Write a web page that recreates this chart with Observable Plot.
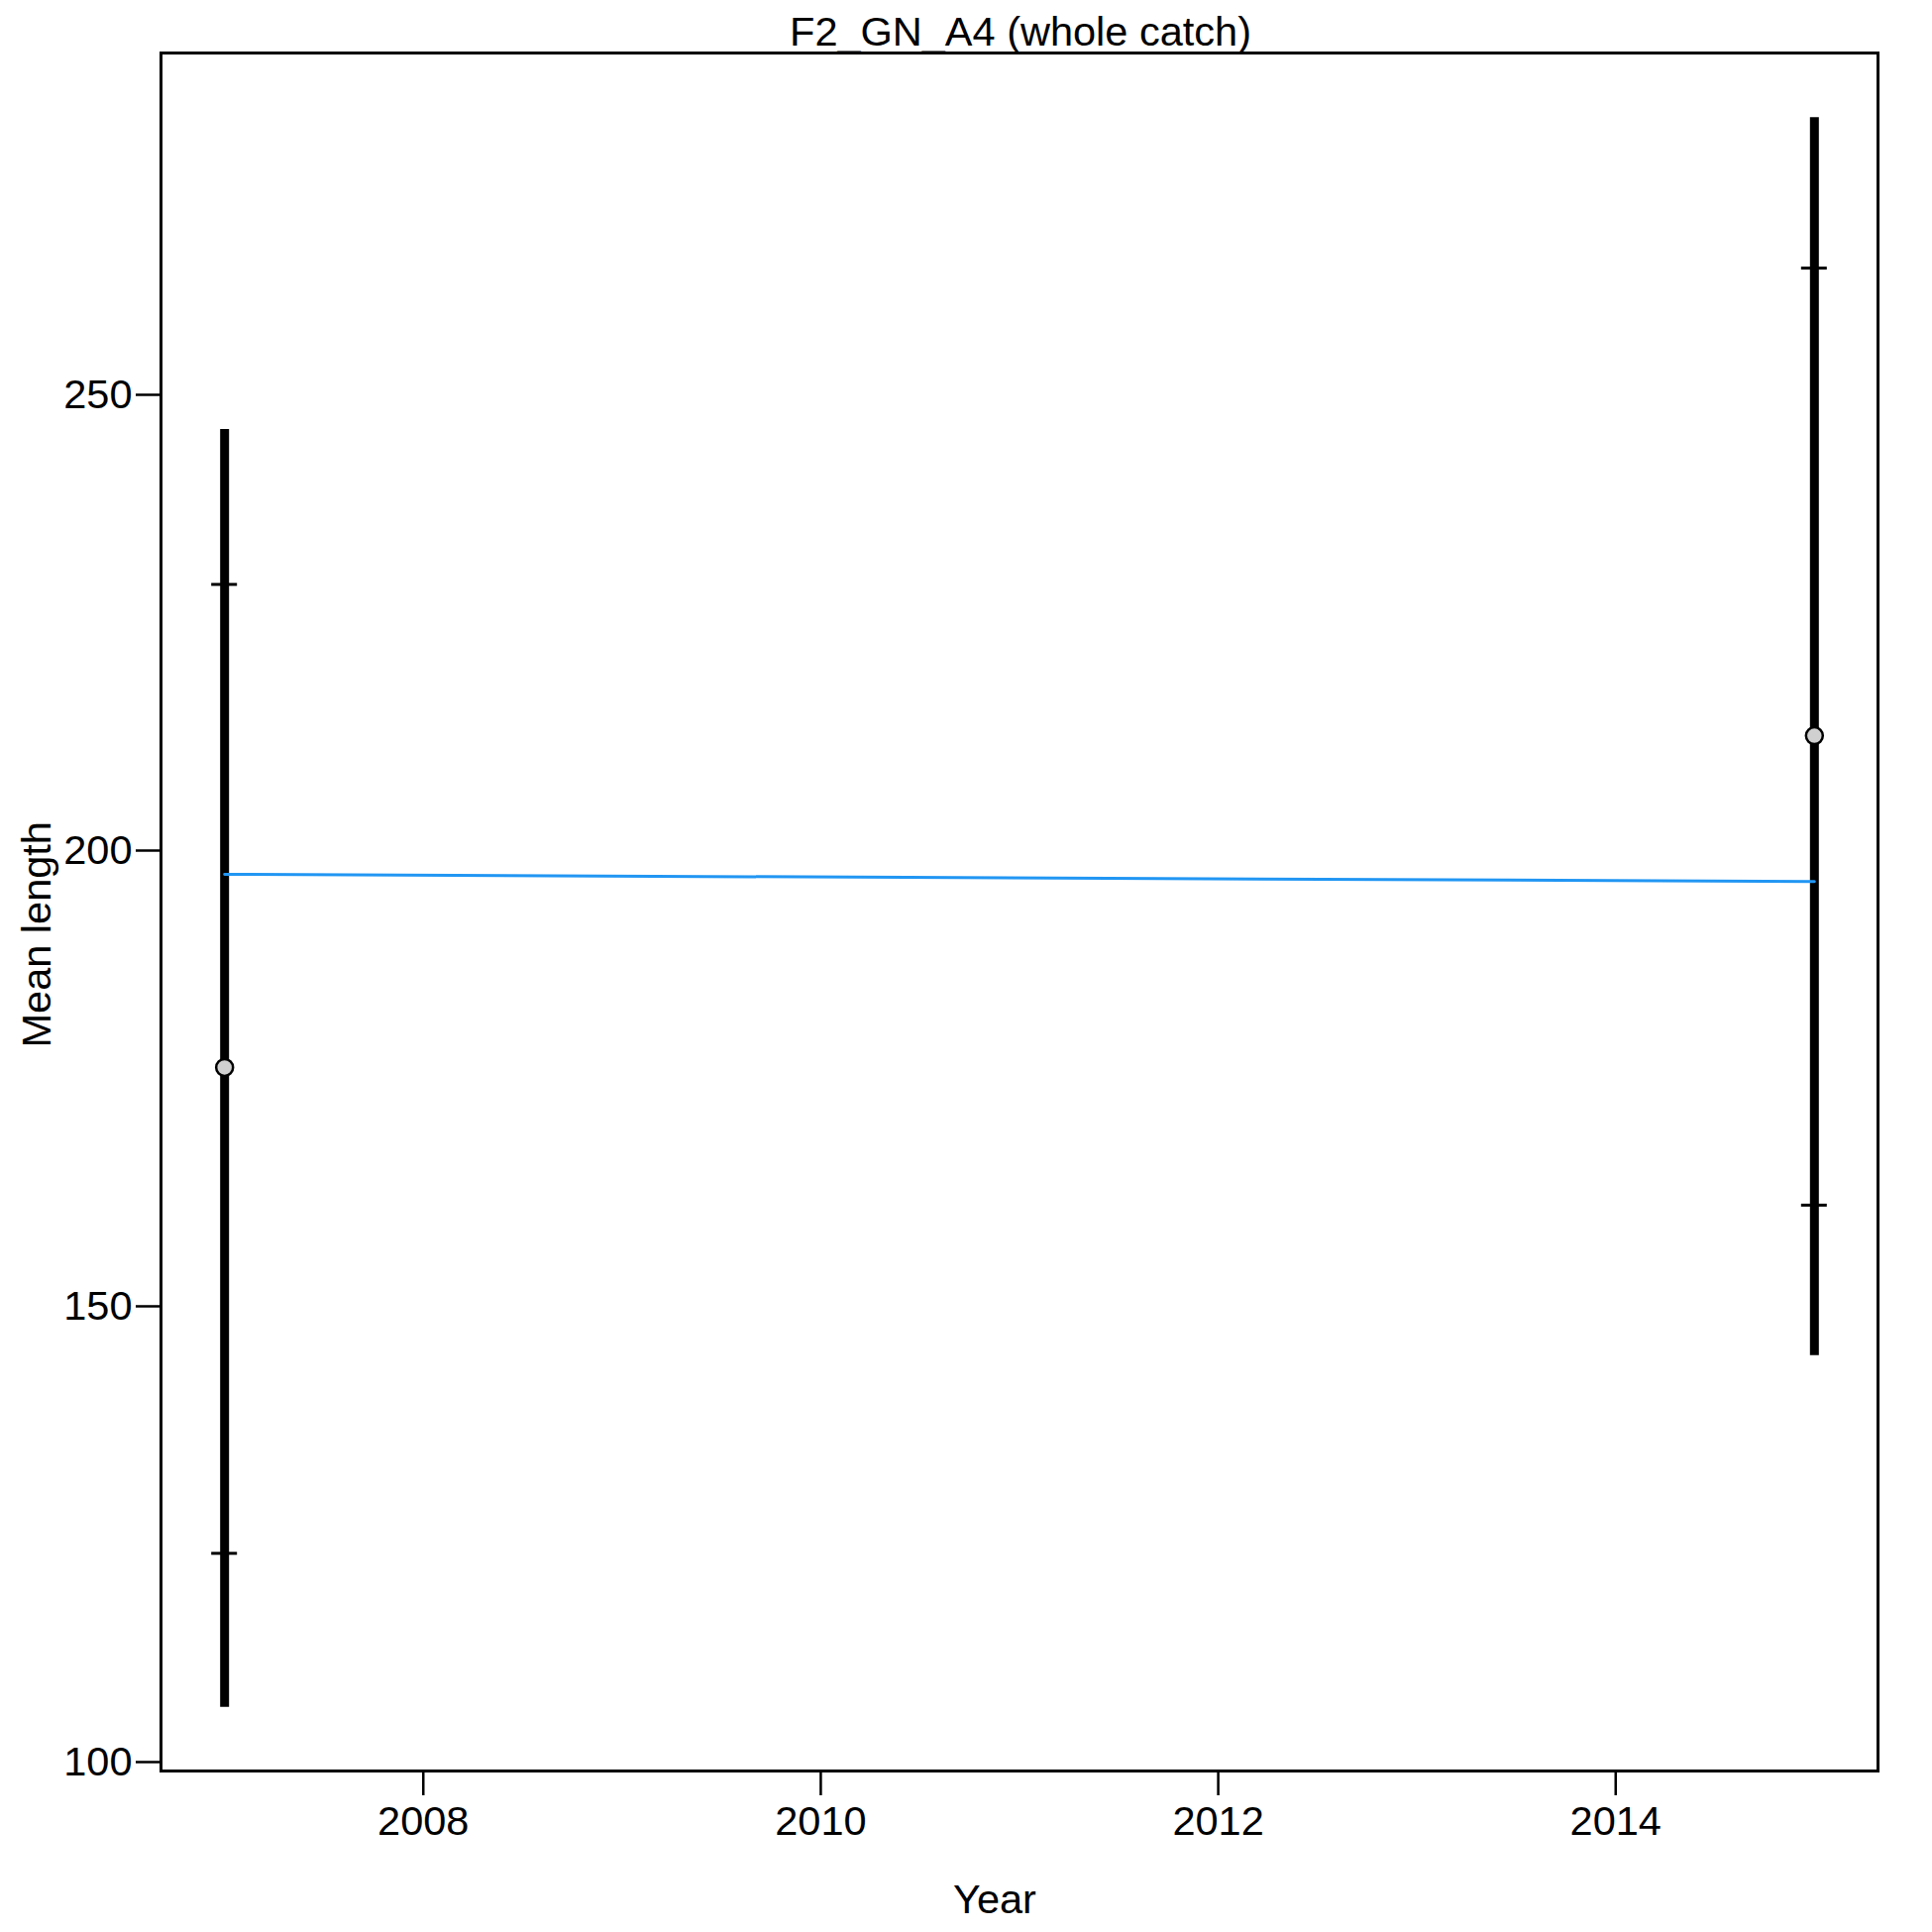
<!DOCTYPE html>
<html>
<head>
<meta charset="utf-8">
<script src="https://cdn.jsdelivr.net/npm/d3@7"></script>
<script src="https://cdn.jsdelivr.net/npm/@observablehq/plot@0.6"></script>
<style>
  html, body { margin: 0; padding: 0; background: #fff; }
  #chart svg { display: block; }
</style>
</head>
<body>
<div id="chart"></div>
<script>
// ---- data ----
const years = [2007, 2015];
const means = [176.2, 212.6];
const lower95 = [106.0, 144.6];
const upper95 = [246.2, 280.4];
const lowerInner = [122.9, 161.1];
const upperInner = [229.2, 263.9];
const fitYears = [2007, 2015];
const fitValues = [197.4, 196.6];
const xTicks = [2008, 2010, 2012, 2014];
const yTicks = [100, 150, 200, 250];
const titleText = "F2_GN_A4 (whole catch)";
const xLabel = "Year";
const yLabel = "Mean length";

const rows = years.map((y, i) => ({
  year: y, mean: means[i], lo: lower95[i], hi: upper95[i],
  loIn: lowerInner[i], hiIn: upperInner[i]
}));
const fit = fitYears.map((y, i) => ({year: y, value: fitValues[i]}));

const FONT = "'Liberation Sans', Arial, sans-serif";
const FS = 41.5;

const chart = Plot.plot({
  width: 1950,
  height: 1950,
  marginLeft: 162,
  marginRight: 55,
  marginTop: 53,
  marginBottom: 163,
  style: {fontFamily: FONT, fontSize: FS + "px", color: "#000", background: "#fff"},
  x: {domain: [2006.68, 2015.32]},
  y: {domain: [99.02, 287.5]},
  marks: [
    Plot.axisX({ticks: xTicks, tickSize: 25, tickPadding: 10, tickFormat: d => String(d),
                label: null, strokeWidth: 2.5, fontSize: FS}),
    Plot.axisY({ticks: yTicks, tickSize: 25, tickPadding: 4, tickFormat: d => String(d),
                label: null, strokeWidth: 2.5, fontSize: FS}),
    Plot.ruleX(rows, {x: "year", y1: "lo", y2: "hi", stroke: "#000", strokeWidth: 9}),
    Plot.ruleY(rows, {y: "loIn", x1: "year", x2: "year", insetLeft: -13, insetRight: -13, stroke: "#000", strokeWidth: 3}),
    Plot.ruleY(rows, {y: "hiIn", x1: "year", x2: "year", insetLeft: -13, insetRight: -13, stroke: "#000", strokeWidth: 3}),
    Plot.line(fit, {x: "year", y: "value", stroke: "#2196f3", strokeWidth: 3}),
    Plot.dot(rows, {x: "year", y: "mean", r: 8.5, fill: "#d0d0d0", stroke: "#000", strokeWidth: 2.5}),
    Plot.frame({stroke: "#000", strokeWidth: 3}),
    Plot.text([titleText], {frameAnchor: "top", dx: 1, dy: -8, lineAnchor: "bottom",
                            fontSize: FS, fill: "#000"}),
    Plot.text([xLabel], {frameAnchor: "bottom", dx: -25, dy: 143, lineAnchor: "bottom",
                         fontSize: FS, fill: "#000"}),
    Plot.text([yLabel], {frameAnchor: "left", dx: -112, dy: 137, rotate: -90, lineAnchor: "bottom",
                         fontSize: FS, fill: "#000"})
  ]
});
document.getElementById("chart").appendChild(chart);
</script>
</body>
</html>
